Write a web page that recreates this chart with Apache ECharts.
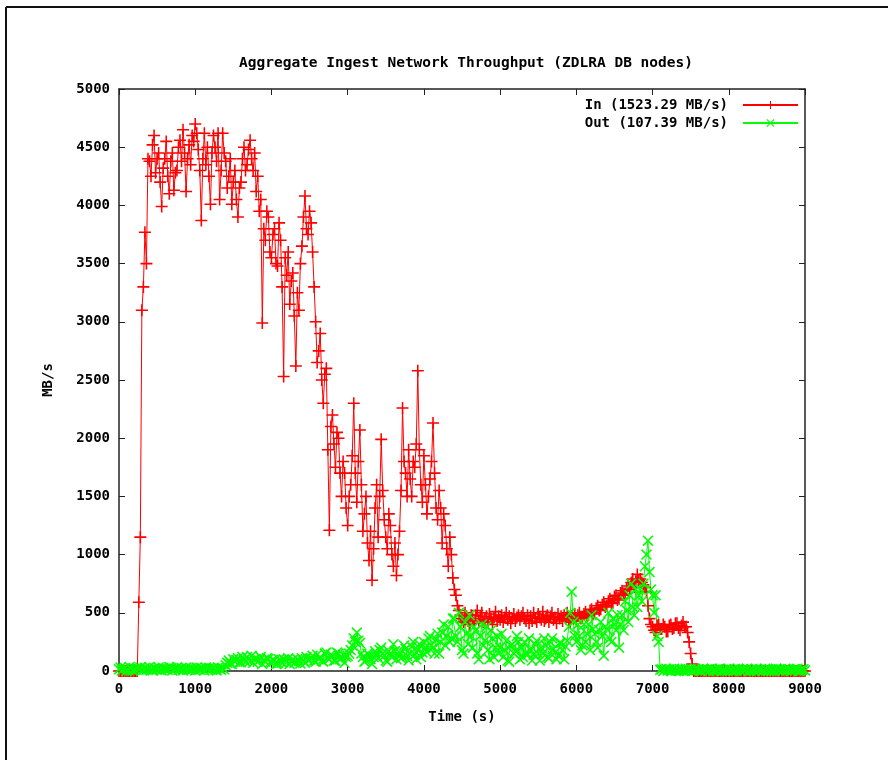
<!DOCTYPE html>
<html>
<head>
<meta charset="utf-8">
<script src="https://cdn.jsdelivr.net/npm/echarts@6/dist/echarts.min.js"></script>
<style>
  html, body { margin: 0; padding: 0; background: #fff; }
  #chart { width: 888px; height: 760px; }
</style>
</head>
<body>
<div id="chart"></div>
<script>
// Sampling interval of the throughput collector (seconds)
const SAMPLE_STEP = 20;

// Aggregate inbound throughput, MB/s (each row covers 200 s)
const inValues = [
  0, 0, 0, 0, 0, 0, 0, 0, 0, 0,
  0, 0, 0, 590, 1150, 3100, 3300, 3770, 3500, 4400,
  4380, 4250, 4520, 4600, 4280, 4400, 4450, 4200, 3990, 4320,
  4400, 4550, 4250, 4100, 4380, 4450, 4130, 4280, 4300, 4500,
  4560, 4380, 4650, 4450, 4120, 4400, 4520, 4350, 4600, 4550,
  4700, 4620, 4480, 4300, 3870, 4400, 4620, 4350, 4500, 4250,
  4010, 4450, 4600, 4500, 4380, 4620, 4050, 4300, 4620, 4450,
  4380, 4150, 4250, 4400, 4010, 4200, 4300, 4050, 3900, 4150,
  4200, 4400, 4500, 4300, 4350, 4480, 4560, 4400, 4300, 4450,
  4120, 4250, 3950, 4050, 2990, 3800, 3700, 3950, 3900, 3600,
  3550, 3750, 3800, 3500, 3480, 3850, 3700, 3300, 2530, 3550,
  3400, 3600, 3150, 3350, 3420, 3050, 2620, 3250, 3100, 3500,
  3650, 3900, 4080, 3800, 3750, 3950, 3850, 3600, 3300, 3000,
  2650, 2750, 2900, 2500, 2300, 2550, 2600, 1900, 1210, 2100,
  2200, 1950, 1750, 2050, 2000, 1700, 1500, 1800, 1700, 1400,
  1250, 1500, 1600, 1850, 2300, 1700, 1450, 1800, 2070, 1600,
  1200, 1350, 1500, 1100, 950, 1200, 780, 1050, 1400, 1600,
  1150, 1500, 1990, 1550, 1300, 1150, 1050, 1350, 1250, 1000,
  900, 1100, 820, 1000, 1200, 1550, 2260, 1800, 1700, 1500,
  1900, 1650, 1500, 1800, 1750, 1950, 2580, 1900, 1600, 1450,
  1850, 1600, 1350, 1500, 1650, 1800, 2130, 1700, 1400, 1300,
  1550, 1400, 1100, 1350, 1250, 1050, 900, 1150, 1000, 800,
  700, 650, 560, 520, 480, 450, 420, 500, 470, 430,
  400, 480, 450, 410, 480, 520, 430, 470, 500, 420,
  440, 470, 420, 490, 450, 400, 460, 510, 430, 470,
  440, 480, 420, 460, 500, 440, 470, 410, 450, 490,
  430, 460, 480, 440, 470, 500, 450, 430, 480, 410,
  470, 430, 500, 450, 420, 490, 460, 440, 510, 430,
  450, 480, 420, 470, 500, 440, 460, 410, 490, 450,
  470, 430, 480, 450, 500, 440, 420, 470, 450, 490,
  430, 480, 500, 450, 460, 490, 510, 470, 480, 520,
  530, 490, 500, 540, 560, 520, 530, 570, 590, 550,
  560, 600, 620, 580, 590, 640, 650, 610, 620, 670,
  690, 650, 660, 710, 730, 700, 760, 790, 720, 770,
  830, 780, 790, 760, 740, 720, 680, 560, 450, 400,
  380, 350, 330, 390, 400, 360, 360, 400, 380, 340,
  340, 390, 400, 360, 370, 410, 410, 370, 350, 390,
  420, 380, 380, 330, 250, 150, 60, 0, 0, 0,
  0, 0, 0, 0, 0, 0, 0, 0, 0, 0,
  0, 0, 0, 0, 0, 0, 0, 0, 0, 0,
  0, 0, 0, 0, 0, 0, 0, 0, 0, 0,
  0, 0, 0, 0, 0, 0, 0, 0, 0, 0,
  0, 0, 0, 0, 0, 0, 0, 0, 0, 0,
  0, 0, 0, 0, 0, 0, 0, 0, 0, 0,
  0, 0, 0, 0, 0, 0, 0, 0, 0, 0,
  0
];

// Aggregate outbound throughput, MB/s (each row covers 200 s)
const outValues = [
  15, 30, 5, 20, 25, 0, 10, 35, 20, 5,
  20, 10, 25, 15, 30, 5, 15, 25, 10, 20,
  35, 15, 5, 25, 20, 10, 30, 15, 5, 25,
  15, 20, 10, 35, 25, 5, 20, 15, 30, 10,
  15, 25, 5, 20, 30, 15, 10, 25, 15, 20,
  5, 30, 15, 10, 25, 20, 5, 30, 15, 25,
  10, 20, 25, 15, 5, 30, 20, 10, 25, 15,
  50, 70, 90, 65, 60, 100, 80, 95, 110, 75,
  75, 120, 95, 80, 120, 100, 85, 130, 70, 105,
  100, 80, 90, 120, 60, 95, 80, 110, 105, 75,
  70, 95, 90, 60, 65, 100, 85, 70, 100, 90,
  75, 110, 60, 85, 95, 70, 80, 100, 90, 65,
  110, 85, 70, 120, 90, 100, 110, 130, 90, 80,
  140, 100, 120, 90, 80, 150, 160, 110, 100, 140,
  130, 90, 90, 160, 150, 100, 110, 140, 70, 120,
  130, 150, 180, 220, 280, 250, 330, 260, 240, 150,
  120, 80, 90, 150, 140, 100, 60, 120, 170, 130,
  110, 180, 200, 150, 130, 90, 80, 170, 150, 120,
  230, 170, 100, 140, 160, 110, 120, 220, 190, 130,
  90, 150, 210, 250, 140, 100, 180, 230, 120, 160,
  250, 200, 160, 280, 300, 220, 200, 150, 270, 320,
  150, 250, 330, 400, 220, 300, 380, 250, 280, 450,
  450, 300, 250, 500, 380, 180, 150, 420, 320, 230,
  480, 300, 200, 380, 350, 150, 100, 300, 400, 220,
  260, 380, 180, 100, 350, 280, 120, 200, 300, 150,
  200, 320, 120, 180, 260, 90, 80, 220, 230, 150,
  170, 300, 250, 100, 200, 120, 250, 160, 140, 280,
  180, 90, 140, 230, 260, 150, 90, 200, 150, 280,
  220, 120, 110, 250, 280, 190, 160, 100, 130, 240,
  240, 180, 100, 210, 260, 380, 500, 680, 420, 300,
  250, 400, 300, 180, 220, 400, 250, 320, 400, 180,
  480, 360, 320, 250, 200, 350, 420, 300, 130, 380,
  360, 500, 280, 250, 450, 400, 350, 480, 200, 400,
  480, 350, 600, 520, 420, 650, 750, 550, 480, 700,
  550, 650, 700, 600, 750, 900, 1000, 1120, 850, 700,
  650, 500, 650, 300, 250, 10, 15, 0, 10, 20,
  5, 15, 0, 10, 20, 5, 10, 0, 15, 5,
  10, 0, 20, 5, 15, 10, 0, 5, 20, 10,
  15, 5, 0, 20, 10, 5, 15, 0, 10, 20,
  0, 10, 5, 15, 20, 0, 10, 5, 15, 0,
  20, 5, 10, 0, 15, 5, 20, 10, 0, 15,
  5, 10, 20, 0, 5, 15, 10, 0, 20, 5,
  10, 15, 0, 5, 20, 10, 0, 15, 5, 10,
  0, 20, 10, 5, 15, 0, 10, 20, 5, 15,
  10, 0, 5, 15, 10, 20, 0, 5, 10, 15,
  5
];

// Axis tick values
const xTicks = [0, 1000, 2000, 3000, 4000, 5000, 6000, 7000, 8000, 9000];
const yTicks = [0, 500, 1000, 1500, 2000, 2500, 3000, 3500, 4000, 4500, 5000];

const seriesNames = ['In (1523.29 MB/s)', 'Out (107.39 MB/s)'];

const toPairs = vals => vals.map((v, i) => [i * SAMPLE_STEP, v]);

const FONT = 'DejaVu Sans Mono';
// gnuplot-style point glyphs: "+" for inbound, "x" for outbound
const PLUS = 'path://M0,4.35H10V5.65H0Z M4.35,0H5.65V10H4.35Z';
const CROSS = 'path://M0,1L1,0L10,9L9,10Z M9,0L10,1L1,10L0,9Z';

const tickStyle = { show: true, inside: true, length: 6, lineStyle: { color: '#222', width: 1 } };
const lineStyleAxis = { show: true, onZero: false, lineStyle: { color: '#222', width: 1.5 } };
const labelStyle = { fontFamily: FONT, fontWeight: 'bold', fontSize: 14, color: '#000' };
const tickLabel = ticks => v => (ticks.indexOf(v) >= 0 ? String(v) : '');

const chart = echarts.init(document.getElementById('chart'));
chart.setOption({
  animation: false,
  backgroundColor: '#fff',
  title: {
    text: 'Aggregate Ingest Network Throughput (ZDLRA DB nodes)',
    left: 461,
    top: 51,
    textAlign: 'center',
    textStyle: { fontFamily: FONT, fontWeight: 'bold', fontSize: 14.5, color: '#000' }
  },
  legend: {
    orient: 'vertical',
    right: 84,
    top: 93,
    align: 'right',
    itemWidth: 55,
    itemHeight: 10,
    itemGap: 4,
    textStyle: { fontFamily: FONT, fontWeight: 'bold', fontSize: 14, color: '#000', padding: [0, 10, 0, 0] },
    data: seriesNames
  },
  grid: { left: 119, right: 83, top: 89, bottom: 89, containLabel: false },
  xAxis: [
    {
      type: 'value', position: 'bottom', min: 0, max: 9000, interval: 1000, z: 3,
      axisLine: lineStyleAxis, axisTick: tickStyle, splitLine: { show: false },
      axisLabel: Object.assign({ margin: 11, formatter: tickLabel(xTicks) }, labelStyle),
      name: 'Time (s)', nameLocation: 'middle', nameGap: 39,
      nameTextStyle: labelStyle
    },
    {
      type: 'value', position: 'top', min: 0, max: 9000, interval: 1000, z: 3,
      axisLine: lineStyleAxis, axisTick: tickStyle, splitLine: { show: false },
      axisLabel: { show: false }
    }
  ],
  yAxis: [
    {
      type: 'value', position: 'left', min: 0, max: 5000, interval: 500, z: 3,
      axisLine: lineStyleAxis, axisTick: tickStyle, splitLine: { show: false },
      axisLabel: Object.assign({ margin: 9, formatter: tickLabel(yTicks) }, labelStyle),
      name: 'MB/s', nameLocation: 'middle', nameGap: 64, nameRotate: 90,
      nameTextStyle: labelStyle
    },
    {
      type: 'value', position: 'right', min: 0, max: 5000, interval: 500, z: 3,
      axisLine: lineStyleAxis, axisTick: tickStyle, splitLine: { show: false },
      axisLabel: { show: false }
    }
  ],
  series: [
    {
      name: seriesNames[0], type: 'line', data: toPairs(inValues),
      xAxisIndex: 0, yAxisIndex: 0,
      symbol: PLUS, symbolSize: 12, showAllSymbol: true,
      color: '#ff0000',
      lineStyle: { color: '#ff0000', width: 1 },
      itemStyle: { color: '#ff0000' }
    },
    {
      name: seriesNames[1], type: 'line', data: toPairs(outValues),
      xAxisIndex: 0, yAxisIndex: 0,
      symbol: CROSS, symbolSize: 11, showAllSymbol: true,
      color: '#00ff00',
      lineStyle: { color: '#00ff00', width: 1 },
      itemStyle: { color: '#00ff00' }
    }
  ],
  graphic: [
    { type: 'line', shape: { x1: 6, y1: 7, x2: 888, y2: 7 }, style: { stroke: '#111', lineWidth: 2 }, silent: true },
    { type: 'line', shape: { x1: 6, y1: 7, x2: 6, y2: 760 }, style: { stroke: '#111', lineWidth: 2 }, silent: true }
  ]
});
</script>
</body>
</html>
